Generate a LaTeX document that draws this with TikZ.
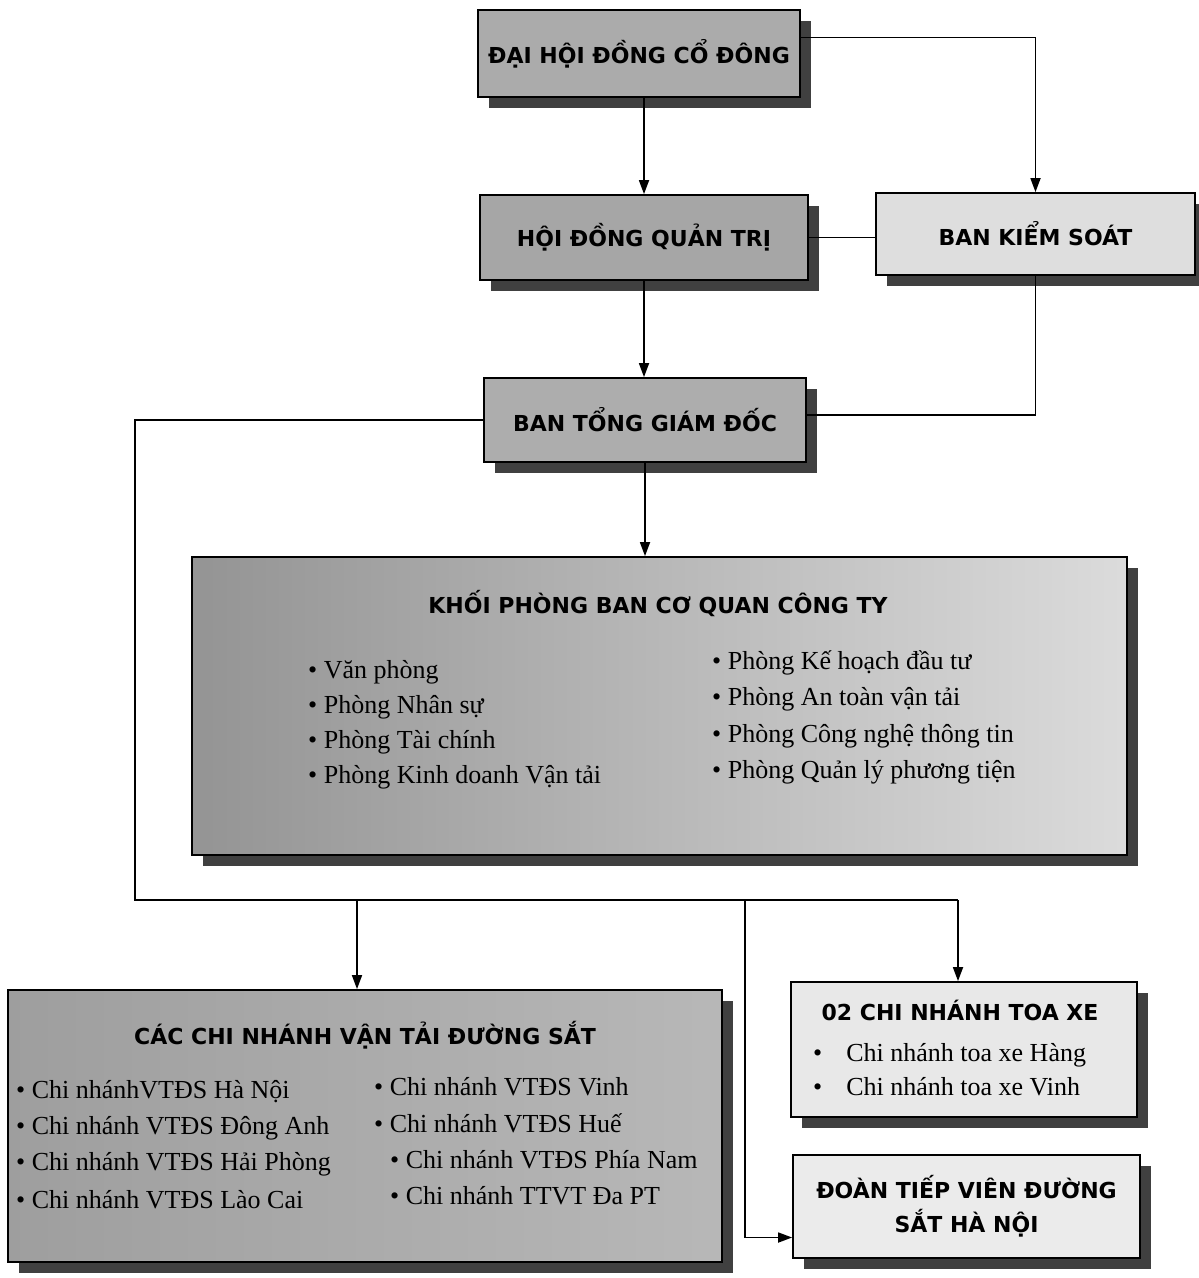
\documentclass[tikz,border=0pt]{standalone}
\usepackage{fontspec}
\setmainfont{Liberation Serif}
\newfontfamily\headfont{DejaVu Sans}
\usetikzlibrary{shadows,arrows.meta,calc}

\tikzset{
  orgbox/.style={draw=black, line width=1.8pt, inner sep=0pt,
    drop shadow={shadow xshift=11pt, shadow yshift=-11pt, fill=black!75, opacity=1}},
  boxtitle/.style={font=\headfont\bfseries\fontsize{22}{34}\selectfont, align=center},
  entry/.style={font=\fontsize{26}{35}\selectfont, anchor=west, inner sep=0pt},
  wire/.style={line width=1.7pt},
  arr/.style={wire, -{Triangle[length=14pt,width=10pt]}},
}

\begin{document}
\begin{tikzpicture}[x=1pt,y=-1pt] %org chart
    \useasboundingbox[fill=white] (0,0) rectangle (1199,1278);

    % boxes
    \node[orgbox, boxtitle, fill=black!33, minimum width=322pt, minimum height=87pt] (dh) at (639,53.5) {ĐẠI HỘI ĐỒNG CỔ ĐÔNG};
    \node[orgbox, boxtitle, fill=black!35, minimum width=328pt, minimum height=85pt] (qt) at (644,237.5) {HỘI ĐỒNG QUẢN TRỊ};
    \node[orgbox, boxtitle, fill=black!13, minimum width=319pt, minimum height=82pt] (ks) at (1035.5,234) {BAN KIỂM SOÁT};
    \node[orgbox, boxtitle, fill=black!32, minimum width=322pt, minimum height=84pt] (gd) at (645,420) {BAN TỔNG GIÁM ĐỐC};
    \node[orgbox, left color=black!42, right color=black!14, minimum width=935pt, minimum height=298pt] (kh) at (659.5,706) {};
    \node[orgbox, left color=black!38, right color=black!28, minimum width=714pt, minimum height=272pt] (cn) at (365,1126) {};
    \node[orgbox, fill=black!9, minimum width=346pt, minimum height=135pt] (tx) at (964,1049.5) {};
    \node[orgbox, boxtitle, fill=black!8, minimum width=347pt, minimum height=103pt] (dv) at (966.5,1206.5) {ĐOÀN TIẾP VIÊN ĐƯỜNG\\SẮT HÀ NỘI};

    % texts inside the big boxes
    \node[boxtitle] (kht) at (658,603) {KHỐI PHÒNG BAN CƠ QUAN CÔNG TY};
    \foreach \txt [count=\i] in {Văn phòng, Phòng Nhân sự, Phòng Tài chính, Phòng Kinh doanh Vận tải}
        \node[entry] (khl\i) at (308,637+35*\i) {•~\txt};
    \foreach \txt [count=\i] in {Phòng Kế hoạch đầu tư, Phòng An toàn vận tải, Phòng Công nghệ thông tin, Phòng Quản lý phương tiện}
        \node[entry] (khr\i) at (712,626.5+36.5*\i) {•~\txt};

    \node[boxtitle] (cnt) at (365,1035) {CÁC CHI NHÁNH VẬN TẢI ĐƯỜNG SẮT};
    \foreach \txt [count=\i] in {Chi nhánhVTĐS Hà Nội, Chi nhánh VTĐS Đông Anh, Chi nhánh VTĐS Hải Phòng, Chi nhánh VTĐS Lào Cai}
        \node[entry] (cnl\i) at (16,1056+36*\i) {•~\txt};
    \node[entry] (cnr1) at (374,1087) {•~Chi nhánh VTĐS Vinh};
    \node[entry] (cnr2) at (374,1123) {•~Chi nhánh VTĐS Huế};
    \node[entry] (cnr3) at (390,1160) {•~Chi nhánh VTĐS Phía Nam};
    \node[entry] (cnr4) at (390,1196) {•~Chi nhánh TTVT Đa PT};

    \node[boxtitle] (txt) at (960,1010) {02 CHI NHÁNH TOA XE};
    \node[entry] (tx1) at (813,1055) {•\hspace{24pt}Chi nhánh toa xe Hàng};
    \node[entry] (tx2) at (813,1087) {•\hspace{24pt}Chi nhánh toa xe Vinh};

    % connectors
    \coordinate (bus) at (135,900);
    \coordinate (j1) at (357,900);
    \coordinate (j2) at (745,900);
    \coordinate (j3) at (958,900);

    \draw[arr] ([yshift=16pt]dh.east) -| (ks.north);
    \draw[arr] (qt.north |- dh.south) -- (qt.north);
    \draw[wire] (qt.east) -- (qt.east -| ks.west);
    \draw[arr] (qt.south) -- (qt.south |- gd.north);
    \draw[wire] (ks.south) |- ([yshift=5pt]gd.east);
    \draw[arr] (gd.south) -- (gd.south |- kh.north);
    \draw[wire] (gd.west) -| (bus) -- (j3);
    \draw[arr] (j1) -- (j1 |- cn.north);
    \draw[arr] (j3) -- (j3 |- tx.north);
    \draw[arr] (j2) |- ([yshift=-31pt]dv.west);
\end{tikzpicture}
\end{document}
